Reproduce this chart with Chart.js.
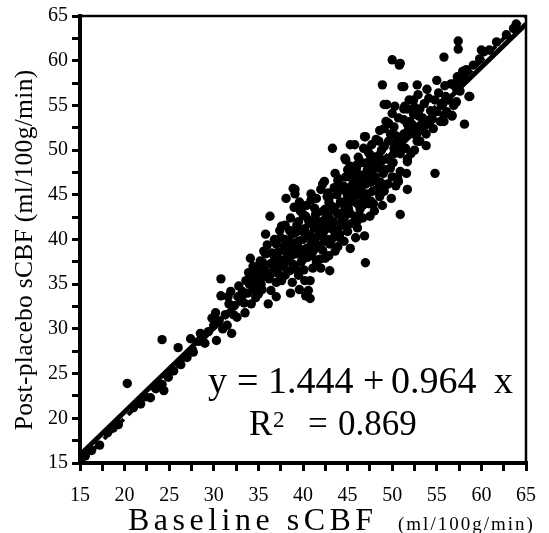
<!DOCTYPE html>
<html>
<head>
<meta charset="utf-8">
<script src="https://cdn.jsdelivr.net/npm/chart.js@4.4.1/dist/chart.umd.min.js"></script>
<style>
html,body{margin:0;padding:0;background:#fff;}
#wrap{width:549px;height:533px;}
</style>
</head>
<body>
<div id="wrap"><canvas id="c" width="549" height="533"></canvas></div>
<script>
// ---- data ----
const baselineX = [
15.6,16.3,17.2,18.1,18.7,19.3,20.3,21.0,21.8,22.3,22.9,23.5,24.2,24.4,24.2,24.9,25.5,26.0,26.3,27.0,
27.4,27.7,28.3,28.5,29.0,29.4,30.3,30.0,30.6,30.8,30.8,31.3,31.7,32.0,32.3,32.8,33.0,33.4,33.9,34.1,
34.2,34.7,34.5,35.0,35.3,35.8,36.4,35.0,34.7,36.4,36.1,36.9,37.6,38.3,37.2,35.6,35.8,36.3,37.6,37.4,
38.9,39.1,40.9,42.2,42.8,39.8,41.3,40.3,41.3,47.0,45.3,43.6,43.0,46.9,46.7,40.8,40.3,40.8,41.1,40.6,
40.2,29.8,31.5,32.6,33.6,34.9,35.5,36.8,37.5,38.0,38.8,39.3,39.6,38.6,37.0,37.9,34.3,35.5,36.2,35.1,
33.8,34.6,
36.5,37.0,37.3,37.8,38.0,38.2,38.5,38.7,39.0,39.2,39.5,39.6,39.8,40.0,40.2,40.4,40.6,40.8,41.0,41.2,
41.4,41.6,41.8,42.0,42.2,42.4,42.5,42.7,42.9,43.0,43.2,43.4,43.6,43.8,44.0,44.2,44.3,44.5,44.7,44.9,
45.0,45.2,45.4,45.6,45.8,46.0,46.2,46.4,46.6,46.8,47.0,47.2,47.4,47.6,47.8,48.0,48.2,48.4,48.6,48.8,
49.0,49.2,49.4,49.6,49.8,50.0,50.2,50.4,50.6,
38.5,39.0,39.5,40.0,41.5,42.0,42.5,43.0,41.0,42.3,43.8,44.6,45.2,39.4,40.7,41.9,43.3,44.1,
38.1,39.1,39.7,42.0,42.4,43.6,44.8,43.3,45.8,46.9,49.1,45.3,44.7,46.1,47.0,
49.1,50.3,51.7,51.7,53.0,52.4,51.7,50.6,48.0,50.2,49.1,47.2,48.0,46.1,46.4,54.8,50.9,58.1,49.4,50.0,
51.4,53.1,55.8,56.7,52.8,51.7,51.7,50.6,47.6,50.7,46.1,
57.4,57.4,55.8,60.0,60.3,50.9,55.0,51.3,52.8,58.1,57.0,58.6,57.2,54.1,52.4,51.3,56.1,56.7,52.8,55.0,
54.2,53.1,51.3,52.0,55.8,62.8,63.6,61.7,60.9,59.8,59.1,58.3,58.0,57.2,63.9,58.7,57.2,
50.0,50.8,48.9,51.1,53.5,54.5,55.5,56.0,53.0,52.0,51.0,52.5,53.8,49.6,48.5,47.5,46.0,45.0,44.0,43.0,
37.2,37.5,37.8,38.0,38.2,38.4,38.6,38.8,38.9,39.0,39.2,39.3,39.5,39.6,39.8,39.9,40.0,
40.1,40.3,40.4,40.5,40.7,40.9,40.9,41.1,41.2,41.4,41.5,41.7,41.8,41.9,
42.1,42.3,42.4,42.6,42.7,42.8,42.9,43.1,43.2,43.4,43.5,43.7,43.8,43.9,43.9,
44.1,44.2,44.4,44.5,44.6,44.8,44.9,44.9,45.1,45.2,45.3,45.5,45.6,45.7,45.9,45.9,
46.1,46.2,46.3,46.5,46.6,46.7,46.8,46.9,47.1,47.2,47.3,47.5,47.6,47.7,47.8,47.9,
48.1,48.2,48.3,48.5,48.6,48.7,48.8,48.9,49.1,49.2,49.3,49.5,49.6,49.8,49.9,
50.1,50.2,50.4,50.5,50.7,50.9,50.9,51.1,51.3,51.5,51.6,51.8,51.9,
52.1,52.3,52.5,52.7,52.9,53.2,53.4,53.6,53.8,53.9,
54.3,54.6,54.8,55.2,55.4,55.7,55.9,56.3,56.6,56.9,57.3,57.6,57.9,
34.0,34.4,34.8,35.2,35.4,35.7,36.0,36.3,36.6,36.8,37.0,
30.2,31.0,31.6,32.2,32.7,33.2,33.5,31.9
];
const postPlaceboY = [
15.8,16.4,17.0,18.4,18.9,19.3,23.9,21.2,21.6,22.4,22.3,23.3,23.8,23.1,28.8,24.6,25.3,27.9,26.0,26.8,
28.9,27.4,28.6,29.5,28.4,29.7,28.7,30.4,30.9,33.7,35.6,31.6,32.8,29.5,32.6,34.8,33.4,32.9,36.3,37.9,
32.8,33.5,34.6,33.9,35.0,38.4,37.3,36.2,34.3,34.3,32.8,36.8,35.4,37.6,36.2,38.7,40.6,42.6,41.5,41.0,
45.7,45.1,45.1,46.2,45.2,43.4,43.5,42.6,42.1,37.4,39.0,38.7,39.5,40.4,42.4,35.4,33.7,33.4,36.8,34.3,
35.4,31.2,30.4,31.3,35.4,36.9,37.4,38.0,37.2,36.0,35.2,36.6,34.4,34.0,33.6,39.3,35.5,35.8,35.6,34.9,
34.0,36.3,
38.5,39.5,37.8,38.8,40.0,39.0,41.0,38.2,39.6,40.8,42.0,38.5,37.5,40.0,41.2,39.0,42.2,40.5,38.2,41.5,
39.6,43.0,40.8,42.0,38.8,41.0,43.4,40.0,44.2,42.3,41.2,43.6,40.6,45.0,42.8,44.2,41.6,46.0,43.5,45.2,
40.9,47.0,44.2,46.2,42.6,48.0,45.0,43.4,47.2,44.6,46.2,48.6,44.0,47.2,45.4,49.2,46.6,48.0,44.8,50.0,
47.4,46.0,49.0,51.0,48.0,47.0,49.6,51.6,50.4,
36.5,37.0,36.0,37.8,37.5,36.8,37.9,36.5,39.8,40.2,41.0,42.2,43.0,39.2,39.0,40.4,41.8,40.2,
44.6,45.6,43.2,45.6,46.5,47.4,48.9,50.2,50.6,51.5,52.4,50.6,49.1,48.4,51.5,
55.1,54.9,54.6,52.9,51.0,54.0,48.7,46.9,48.4,50.2,45.4,45.1,43.2,41.3,46.2,47.4,42.8,52.9,55.1,54.1,
54.9,54.6,53.9,53.9,51.0,49.0,45.6,46.8,44.3,46.5,42.1,
62.2,61.3,60.4,61.2,61.0,59.7,57.8,57.1,57.3,58.8,57.3,56.0,55.4,55.8,55.6,54.6,54.3,53.8,54.0,54.3,
52.9,51.0,51.8,53.2,53.2,62.9,63.6,62.1,61.2,60.2,59.5,59.0,57.9,56.9,64.1,56.0,57.6,
60.1,59.5,57.3,57.1,52.5,53.5,55.0,56.0,53.8,52.0,50.5,50.0,50.5,53.0,51.0,49.5,47.5,47.8,46.8,44.8,
38.6,40.2,37.0,41.6,38.0,39.8,42.4,40.6,37.2,43.6,38.4,41.6,39.8,44.2,41.0,38.8,42.8,
36.6,40.4,43.8,38.0,41.8,39.4,44.4,40.2,38.8,42.8,44.6,39.2,41.4,37.8,
40.6,43.2,39.8,42.6,44.8,41.6,38.2,43.8,40.0,42.0,45.8,41.0,43.0,39.2,46.6,
40.6,45.6,42.2,44.0,39.8,47.0,41.4,42.8,43.4,45.8,48.2,41.8,44.8,47.6,40.2,46.6,
44.0,49.2,42.6,45.6,48.6,43.8,50.2,46.8,44.6,47.8,49.8,42.6,46.4,50.6,48.6,44.0,
47.0,51.2,45.6,49.4,52.2,46.4,48.8,43.8,50.4,47.8,53.2,46.2,49.0,51.8,44.6,
48.6,52.6,46.0,50.8,53.6,49.6,47.6,51.4,53.4,50.2,47.4,52.2,55.6,
49.6,52.8,54.8,51.6,56.2,52.2,53.6,55.2,51.8,56.8,
54.4,52.4,55.6,56.4,53.2,55.2,57.2,55.6,57.4,55.0,58.2,56.6,58.8,
35.0,37.0,35.8,37.6,34.4,36.6,39.4,36.0,37.4,40.0,35.2,
31.8,30.0,33.6,31.6,33.6,34.2,31.8,34.2
];
const tickLabels = [15,20,25,30,35,40,45,50,55,60,65];
// fitted line (y = 1.444 + 0.964 x) end points and identity line
const fitX = [15, 65];
const fitY = [15.9, 64.1];
const identityX = [15, 65];
const identityY = [15, 65];
const equationParts = ['y', '=', '1.444', '+', '0.964', 'x'];
const r2Value = '0.869';
const xTitleMain = 'Baseline sCBF';
const xTitleUnit = '(ml/100g/min)';
const yTitle = 'Post-placebo sCBF (ml/100g/min)';

// ---- build ----
const SERIF = '"Liberation Serif", "Times New Roman", serif';

const pts = baselineX.map((x,i)=>({x:x, y:postPlaceboY[i]}));
const fitPts = fitX.map((x,i)=>({x:x, y:fitY[i]}));
const idPts = identityX.map((x,i)=>({x:x, y:identityY[i]}));

function spaced(ctx, text, x, y, spacing){
  let cx = x;
  for (const ch of text){ ctx.fillText(ch, cx, y); cx += ctx.measureText(ch).width + spacing; }
  return cx - spacing;
}
function spacedWidth(ctx, text, spacing){
  let w = 0; for (const ch of text){ w += ctx.measureText(ch).width + spacing; } return w - spacing;
}

const deco = {
  id: 'deco',
  afterDraw(chart){
    const ctx = chart.ctx, a = chart.chartArea;
    ctx.save();
    ctx.strokeStyle = '#000';
    ctx.lineWidth = 2.5;
    ctx.beginPath();
    ctx.moveTo(a.left, a.top); ctx.lineTo(a.right, a.top); ctx.lineTo(a.right, a.bottom);
    ctx.stroke();
    ctx.fillStyle = '#000';
    ctx.textBaseline = 'alphabetic';
    ctx.textAlign = 'left';
    // equation
    ctx.font = '38px ' + SERIF;
    const eqX = [208, 237, 268, 363, 391, 494];
    equationParts.forEach((t,i)=>ctx.fillText(t, eqX[i], 393));
    // R^2 line
    ctx.font = '35px ' + SERIF;
    ctx.fillText('R', 249, 435);
    ctx.font = '23px ' + SERIF;
    ctx.fillText('2', 273, 427);
    ctx.font = '35px ' + SERIF;
    ctx.fillText('=', 308, 435);
    ctx.fillText(r2Value, 338, 435);
    // x title
    ctx.font = '32px ' + SERIF;
    spaced(ctx, xTitleMain, 128, 530, 4.5);
    ctx.font = '19px ' + SERIF;
    spaced(ctx, xTitleUnit, 398, 530, 2);
    // y title
    ctx.save();
    ctx.translate(32, 250);
    ctx.rotate(-Math.PI/2);
    ctx.font = '25.5px ' + SERIF;
    const w = spacedWidth(ctx, yTitle, 0.3);
    spaced(ctx, yTitle, -w/2, 0, 0.3);
    ctx.restore();
    ctx.restore();
  }
};

const axisCommon = {
  type: 'linear', min: 15, max: 65,
  border: {display: true, color: '#000', width: 4},
  grid: {display: true, drawOnChartArea: false, drawTicks: true, tickLength: 8, tickWidth: 3, lineWidth: 3, tickColor: '#000', color: '#000'},
  title: {display: false}
};

new Chart(document.getElementById('c'), {
  type: 'scatter',
  data: {
    datasets: [
      {label: 'points', data: pts, pointStyle: 'circle', pointRadius: 4.7, pointHoverRadius: 4.7, borderWidth: 0, backgroundColor: '#000', borderColor: '#000', order: 3},
      {label: 'fit', data: fitPts, showLine: true, pointRadius: 0, borderColor: '#000', borderWidth: 5, order: 1},
      {label: 'identity', data: idPts, showLine: true, pointRadius: 0, borderColor: '#000', borderWidth: 4, borderDash: [11, 6], order: 2}
    ]
  },
  options: {
    responsive: false,
    animation: false,
    events: [],
    layout: {padding: {left: 0, right: 19, top: 14, bottom: 0}},
    plugins: {legend: {display: false}, tooltip: {enabled: false}},
    scales: {
      x: Object.assign({}, axisCommon, {
        position: 'bottom',
        afterFit(s){ s.height = 70; },
        afterBuildTicks(s){ s.ticks = []; for (let v = 15; v <= 65; v += 2.5) s.ticks.push({value: v}); },
        ticks: {autoSkip: false, maxRotation: 0, padding: 13, color: '#000', font: {family: SERIF, size: 20},
          callback(v){ return tickLabels.includes(v) ? String(v) : ''; }}
      }),
      y: Object.assign({}, axisCommon, {
        position: 'left',
        afterFit(s){ s.width = 80; },
        afterBuildTicks(s){ s.ticks = []; for (let v = 15; v <= 65; v += 2.5) s.ticks.push({value: v}); },
        ticks: {autoSkip: false, padding: 4, color: '#000', font: {family: SERIF, size: 20},
          callback(v){ return tickLabels.includes(v) ? String(v) : ''; }}
      })
    }
  },
  plugins: [deco]
});
</script>
</body>
</html>
